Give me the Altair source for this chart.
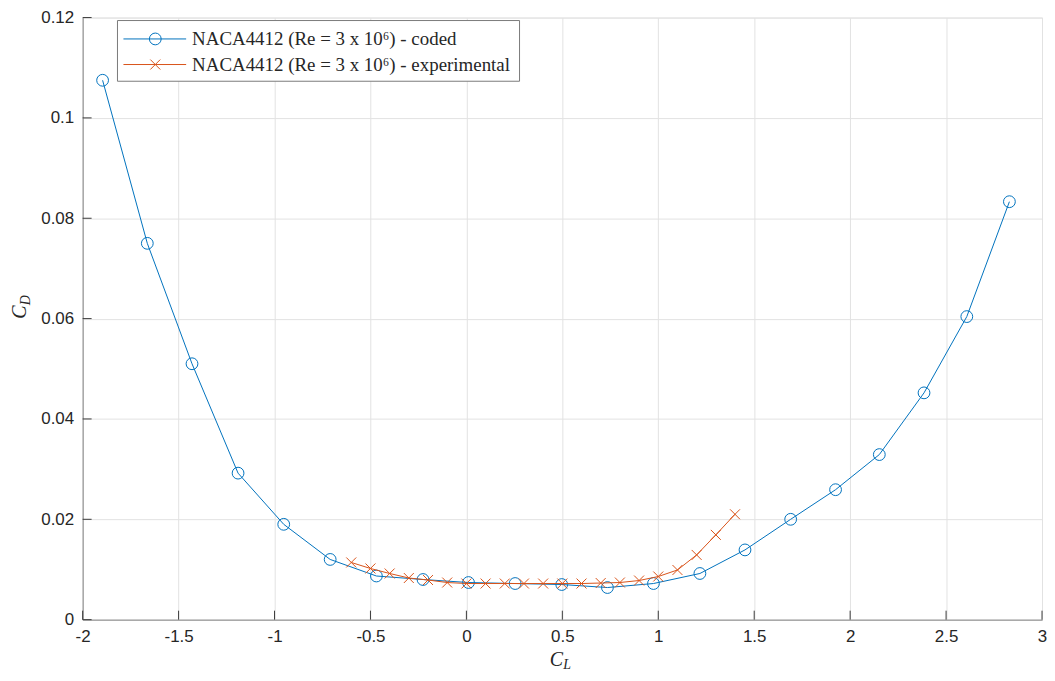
"""
Drag polar of the NACA4412 airfoil: coded result vs experimental data.
"""

import pandas as pd
import altair as alt

# Coded polar (circles)
coded_cl = [-1.896, -1.663, -1.430, -1.190, -0.952, -0.710, -0.469, -0.226,
            0.011, 0.254, 0.497, 0.735, 0.975, 1.217, 1.452, 1.690, 1.924,
            2.152, 2.385, 2.608, 2.830]
coded_cd = [0.1075, 0.0750, 0.0510, 0.0292, 0.0190, 0.0120, 0.0087, 0.0080,
            0.0074, 0.0072, 0.0070, 0.0064, 0.0072, 0.0092, 0.0139, 0.0200,
            0.0259, 0.0329, 0.0452, 0.0604, 0.0833]

# Experimental polar (crosses)
exp_cl = [-0.6, -0.5, -0.4, -0.3, -0.2, -0.1, 0.0, 0.1, 0.2, 0.3, 0.4,
          0.5, 0.6, 0.7, 0.8, 0.9, 1.0, 1.1, 1.2, 1.3, 1.4]
exp_cd = [0.0114, 0.0102, 0.0092, 0.0083, 0.0079, 0.0074, 0.0072, 0.0072,
          0.0072, 0.0072, 0.0072, 0.0072, 0.0072, 0.0073, 0.0074, 0.0078,
          0.0086, 0.0099, 0.0129, 0.0169, 0.0210]

x_ticks = [-2, -1.5, -1, -0.5, 0, 0.5, 1, 1.5, 2, 2.5, 3]
y_ticks = [0, 0.02, 0.04, 0.06, 0.08, 0.1, 0.12]

legend_labels = ["NACA4412 (Re = 3 x 10\u2076) - coded",
                 "NACA4412 (Re = 3 x 10\u2076) - experimental"]

BLUE = "#0072BD"
ORANGE = "#D95319"
W, H = 964, 605
CROSS = "M-1,-1L1,1M-1,1L1,-1"

coded = pd.DataFrame({"cl": coded_cl, "cd": coded_cd})
exp = pd.DataFrame({"cl": exp_cl, "cd": exp_cd})
one = pd.DataFrame({"k": [0]})


def x_enc(field="cl:Q"):
    return alt.X(field, scale=alt.Scale(domain=[-2, 3], nice=False, zero=False),
                 axis=alt.Axis(values=x_ticks, title=None))


def y_enc(field="cd:Q"):
    return alt.Y(field, scale=alt.Scale(domain=[0, 0.12], nice=False, zero=False),
                 axis=alt.Axis(values=y_ticks, title=None))


coded_line = alt.Chart(coded).mark_line(color=BLUE, strokeWidth=1).encode(x=x_enc(), y=y_enc())
coded_pts = alt.Chart(coded).mark_point(
    shape="circle", filled=False, color=BLUE, size=140, strokeWidth=1, opacity=1
).encode(x=x_enc(), y=y_enc())

exp_line = alt.Chart(exp).mark_line(color=ORANGE, strokeWidth=1).encode(x=x_enc(), y=y_enc())
exp_pts = alt.Chart(exp).mark_point(
    shape=CROSS, filled=False, color=ORANGE, size=100, strokeWidth=1, opacity=1
).encode(x=x_enc(), y=y_enc())

# Inward ticks, MATLAB style
tick_color = "#3a3a3a"
xt = alt.Chart(pd.DataFrame({"v": x_ticks})).mark_rule(color=tick_color, strokeWidth=1).encode(
    x=x_enc("v:Q"), y=alt.value(H - 9), y2=alt.value(H))
yt = alt.Chart(pd.DataFrame({"v": y_ticks})).mark_rule(color=tick_color, strokeWidth=1).encode(
    y=y_enc("v:Q"), x=alt.value(0), x2=alt.value(9))

# Axis titles C_L and C_D
title_font = "Liberation Serif"
xt_c = alt.Chart(one).mark_text(font=title_font, fontStyle="italic", fontSize=20,
                                align="center", baseline="alphabetic", color="#262626").encode(
    x=alt.value(476), y=alt.value(652), text=alt.value("C"))
xt_l = alt.Chart(one).mark_text(font=title_font, fontStyle="italic", fontSize=14,
                                align="left", baseline="alphabetic", color="#262626").encode(
    x=alt.value(483), y=alt.value(655), text=alt.value("L"))
yt_c = alt.Chart(one).mark_text(font=title_font, fontStyle="italic", fontSize=20, angle=270,
                                align="center", baseline="alphabetic", color="#262626").encode(
    x=alt.value(-57), y=alt.value(296), text=alt.value("C"))
yt_d = alt.Chart(one).mark_text(font=title_font, fontStyle="italic", fontSize=14, angle=270,
                                align="left", baseline="alphabetic", color="#262626").encode(
    x=alt.value(-53), y=alt.value(289), text=alt.value("D"))

# Legend box drawn by hand
leg_box = alt.Chart(one).mark_rect(fill="white", stroke="#7a7a7a", strokeWidth=1).encode(
    x=alt.value(35), x2=alt.value(439), y=alt.value(3), y2=alt.value(64))
leg_layers = []
for i, (col, shape, size) in enumerate([(BLUE, "circle", 140), (ORANGE, CROSS, 100)]):
    ry = 21.5 + i * 25.7
    leg_layers.append(alt.Chart(one).mark_rule(color=col, strokeWidth=1).encode(
        x=alt.value(41), x2=alt.value(104), y=alt.value(ry)))
    leg_layers.append(alt.Chart(one).mark_point(
        shape=shape, filled=False, color=col, size=size, strokeWidth=1, opacity=1).encode(
        x=alt.value(73), y=alt.value(ry)))
    leg_layers.append(alt.Chart(one).mark_text(
        font=title_font, fontSize=19, align="left", baseline="middle", color="#262626").encode(
        x=alt.value(110), y=alt.value(ry + 0.5), text=alt.value(legend_labels[i])))

chart = alt.layer(
    coded_line, coded_pts, exp_line, exp_pts, xt, yt,
    xt_c, xt_l, yt_c, yt_d, leg_box, *leg_layers
).properties(
    width=W, height=H,
    padding={"left": 75, "top": 8, "right": 5, "bottom": 51},
    autosize=alt.AutoSizeParams(type="none"),
).configure_view(
    stroke="#e2e2e2", strokeWidth=1
).configure_axis(
    labelFont="Liberation Sans", labelFontSize=17, labelColor="#262626",
    labelPadding=9, labelFlush=False, labelOverlap=False,
    labelExpr="toString(datum.value)",
    ticks=False, tickSize=0,
    domainColor="#878787", domainWidth=1,
    grid=True, gridColor="#e2e2e2", gridWidth=1,
)

chart.save("out.html", embed_options={"renderer": "svg", "actions": False})
